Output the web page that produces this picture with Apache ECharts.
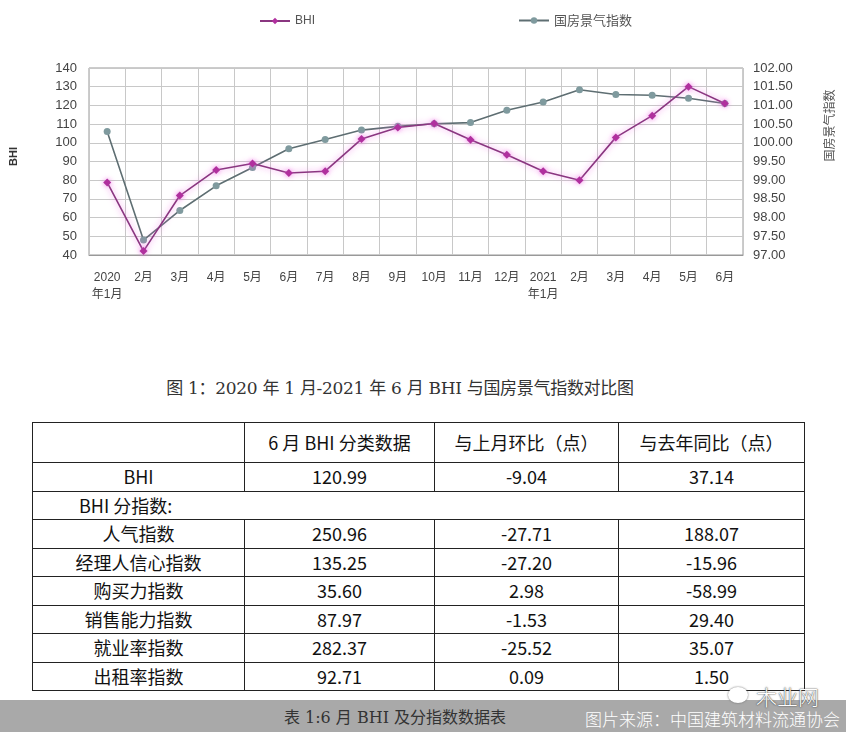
<!DOCTYPE html>
<html>
<head>
<meta charset="utf-8">
<script src="https://cdn.jsdelivr.net/npm/echarts@6/dist/echarts.min.js"></script>
<style>
html,body{margin:0;padding:0;background:#fff;width:846px;height:732px;overflow:hidden;position:relative;font-family:"Liberation Sans Narrow","Noto Sans CJK SC",sans-serif;}
#chart{position:absolute;left:0;top:0;width:846px;height:310px;}
#caption{position:absolute;left:0;top:374px;width:800px;text-align:center;font-size:17px;color:#333;font-family:"DejaVu Serif","Noto Sans CJK SC",serif;letter-spacing:-0.3px;}
#tbl{position:absolute;left:32px;top:422px;border-collapse:collapse;font-size:18px;color:#111;table-layout:fixed;width:768px;}
#tbl td{border:1.5px solid #222;text-align:center;padding:0;height:27.5px;line-height:27px;}
#tbl tr.h td{height:39px;line-height:39px;}
#band{position:absolute;left:0;top:700px;width:846px;height:32px;background:#a9a9a9;}
#foot{position:absolute;left:0;top:704px;width:790px;text-align:center;font-size:16px;color:#333;font-family:"DejaVu Serif","Noto Sans CJK SC",serif;}
#src{position:absolute;right:6px;top:706px;font-size:17px;color:#fff;font-weight:300;font-family:"Noto Sans CJK SC",sans-serif;}
#wm{position:absolute;left:756px;top:681px;font-size:21px;color:#fff;font-weight:300;font-family:"Noto Sans CJK SC",sans-serif;text-shadow:0 0 2px #555,0 0 1px #333;}
#wmicon{position:absolute;left:728px;top:687px;width:20px;height:16px;border-radius:50%;background:#fff;box-shadow:0 0 2px #666;}
</style>
</head>
<body>
<div id="chart"></div>
<div id="caption">图 1：2020 年 1 月-2021 年 6 月 BHI 与国房景气指数对比图</div>
<table id="tbl"></table>
<div id="band"></div>
<div id="foot">表 1:6 月 BHI 及分指数数据表</div>
<div id="wmicon"></div>
<div id="wm">木业网</div>
<div id="src">图片来源：中国建筑材料流通协会</div>
<script>
// ---- chart data ----
const months = ['2020\n年1月','2月','3月','4月','5月','6月','7月','8月','9月','10月','11月','12月','2021\n年1月','2月','3月','4月','5月','6月'];
const bhi = [78.8, 42.1, 71.8, 85.5, 88.9, 83.85, 84.8, 102.0, 108.2, 110.3, 101.6, 93.6, 84.8, 80.0, 102.9, 114.5, 130.03, 120.99];
const housing = [100.30, 97.40, 98.19, 98.85, 99.34, 99.84, 100.09, 100.34, 100.44, 100.51, 100.54, 100.87, 101.09, 101.42, 101.29, 101.27, 101.19, 101.05];
const leftTicks = {min: 40, max: 140, interval: 10};
const rightTicks = {min: 97, max: 102, interval: 0.5};

// ---- table data ----
const tableHeader = ['', '6 月 BHI 分类数据', '与上月环比（点）', '与去年同比（点）'];
const tableRows = ['BHI', '人气指数', '经理人信心指数', '购买力指数', '销售能力指数', '就业率指数', '出租率指数'];
const tableJune = ['120.99', '250.96', '135.25', '35.60', '87.97', '282.37', '92.71'];
const tableMoM = ['-9.04', '-27.71', '-27.20', '2.98', '-1.53', '-25.52', '0.09'];
const tableYoY = ['37.14', '188.07', '-15.96', '-58.99', '29.40', '35.07', '1.50'];
const subIndexTitle = 'BHI 分指数:';

// build table
const tbl = document.getElementById('tbl');
const widths = [211, 189, 183, 185];
let html = '<tr class="h">' + tableHeader.map((t, i) => '<td style="width:' + widths[i] + 'px">' + t + '</td>').join('') + '</tr>';
for (let i = 0; i < tableRows.length; i++) {
  html += '<tr><td>' + tableRows[i] + '</td><td>' + tableJune[i] + '</td><td>' + tableMoM[i] + '</td><td>' + tableYoY[i] + '</td></tr>';
  if (i === 0) html += '<tr><td colspan="4" style="text-align:left;padding-left:46px">' + subIndexTitle + '</td></tr>';
}
tbl.innerHTML = html;

const chart = echarts.init(document.getElementById('chart'), null, {renderer: 'canvas'});
const axisLabelStyle = {color: '#444', fontSize: 13, fontFamily: 'Liberation Sans, sans-serif'};
chart.setOption({
  animation: false,
  backgroundColor: '#fff',
  legend: [
    {data: ['BHI'], left: 254, top: 10, itemWidth: 30, itemHeight: 8, textStyle: {color: '#555', fontSize: 12, fontFamily: 'Liberation Sans Narrow, sans-serif'}},
    {data: ['国房景气指数'], left: 513, top: 9, itemWidth: 30, itemHeight: 8, textStyle: {color: '#555', fontSize: 13, fontFamily: 'Noto Sans CJK SC, sans-serif'}}
  ],
  grid: {left: 86, right: 103, top: 68, bottom: 55, show: true, borderColor: '#999', borderWidth: 1},
  xAxis: {
    type: 'category', data: months, boundaryGap: true,
    axisLine: {show: true, lineStyle: {color: '#999'}},
    axisTick: {show: false},
    splitLine: {show: true, interval: 0, lineStyle: {color: '#c8c8c8'}},
    axisLabel: {interval: 0, margin: 14, lineHeight: 17, color: '#444', fontSize: 12, fontFamily: 'Liberation Sans, Noto Sans CJK SC, sans-serif'}
  },
  yAxis: [
    {
      type: 'value', min: leftTicks.min, max: leftTicks.max, interval: leftTicks.interval,
      name: 'BHI', nameLocation: 'middle', nameGap: 70, nameRotate: 90,
      nameTextStyle: {fontWeight: 'bold', fontSize: 11, color: '#333', fontFamily: 'Liberation Sans, sans-serif', padding: [0, 0, 0, 10]},
      axisLine: {show: false}, axisTick: {show: false},
      splitLine: {lineStyle: {color: '#c8c8c8'}},
      axisLabel: Object.assign({margin: 12}, axisLabelStyle)
    },
    {
      type: 'value', min: rightTicks.min, max: rightTicks.max, interval: rightTicks.interval,
      name: '国房景气指数', nameLocation: 'middle', nameGap: 80, nameRotate: 90,
      nameTextStyle: {fontSize: 12, color: '#555', fontFamily: 'Noto Sans CJK SC, sans-serif', padding: [0, 0, 0, 72]},
      axisLine: {show: false}, axisTick: {show: false}, splitLine: {show: false},
      axisLabel: Object.assign({margin: 10, formatter: v => v.toFixed(2)}, axisLabelStyle)
    }
  ],
  series: [
    {
      name: '国房景气指数', type: 'line', yAxisIndex: 1, data: housing,
      symbol: 'circle', symbolSize: 7,
      lineStyle: {color: '#5e6e72', width: 1.6},
      itemStyle: {color: '#7f9a9e'},
      z: 2
    },
    {
      name: 'BHI', type: 'line', yAxisIndex: 0, data: bhi,
      symbol: 'diamond', symbolSize: 8,
      lineStyle: {color: '#8a3680', width: 1.6, shadowColor: 'rgba(240,110,230,0.8)', shadowBlur: 6},
      itemStyle: {color: '#b0309e', shadowColor: 'rgba(240,110,230,0.8)', shadowBlur: 5},
      z: 3
    }
  ]
});
</script>
</body>
</html>
